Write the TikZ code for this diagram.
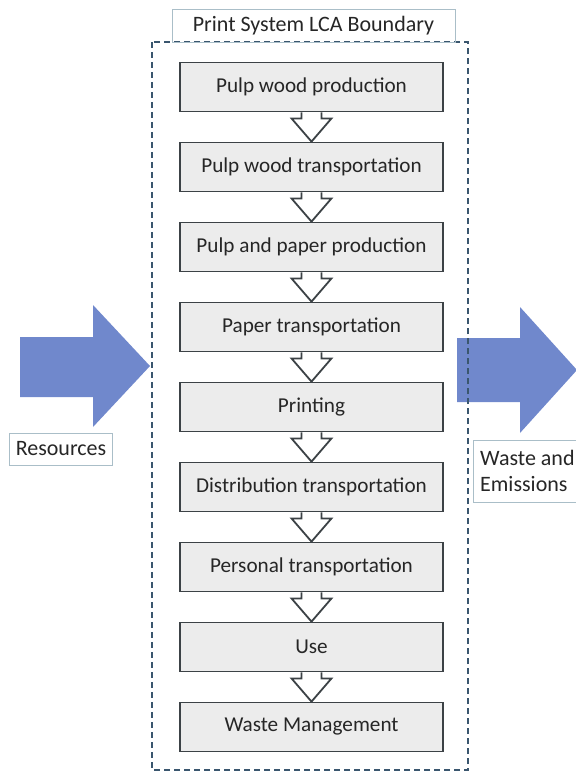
\documentclass[tikz,border=0pt]{standalone}
\usepackage{fontspec}
\setmainfont{Carlito}
\usetikzlibrary{positioning, calc}
\definecolor{boxfill}{RGB}{236,236,236}
\definecolor{boxline}{RGB}{60,66,70}
\definecolor{flowblue}{RGB}{112,136,204}
\definecolor{bndline}{RGB}{58,86,110}
\definecolor{lblline}{RGB}{170,190,200}
\tikzstyle{stage} = [rectangle, minimum width=131.5pt, minimum height=24.5pt, text centered, draw=boxline, line width=0.9pt, fill=boxfill, text=black!85, font=\fontsize{10.6}{12}\selectfont]
\tikzstyle{label} = [rectangle, draw=lblline, line width=0.5pt, text=black!85, font=\fontsize{11}{13}\selectfont]
\tikzstyle{hollow} = [draw=boxline, line width=0.9pt, fill=white, line join=miter]
\tikzstyle{bigarrow} = [fill=flowblue, draw=none]
\newcommand{\downflow}[2]{%
\draw [hollow] ($(#1.south)+(-5pt,0)$) -- ++(0,-3pt) -- ++(-5pt,0) -- (#2.north) -- ($(#1.south)+(10pt,-3pt)$) -- ++(-5pt,0) -- ($(#1.south)+(5pt,0)$);}

\begin{document}
\begin{tikzpicture}[x=0.5pt, y=-0.5pt, node distance=14.6pt]
\useasboundingbox (0,0) rectangle (575,782);
% resource and emission flows
\fill [bigarrow] (20,337) -- (93,337) -- (93,305) -- (150,366) -- (93,427) -- (93,397) -- (20,397) -- cycle;
\fill [bigarrow] (457,338) -- (520,338) -- (520,307) -- (577,370) -- (520,433) -- (520,402) -- (457,402) -- cycle;
% system boundary
\draw [bndline, line width=0.9pt, densely dashed] (152,42) rectangle (468,770);
\node (boundary) [label, minimum width=141.5pt, minimum height=16pt] at (313.5,26) {Print System LCA Boundary};
% life cycle stages
\node (pulpwood) [stage] at (311.5,87) {Pulp wood production};
\node (woodtrans) [stage, below=of pulpwood] {Pulp wood transportation};
\node (paperprod) [stage, below=of woodtrans] {Pulp and paper production};
\node (papertrans) [stage, below=of paperprod] {Paper transportation};
\node (printing) [stage, below=of papertrans] {Printing};
\node (distrib) [stage, below=of printing] {Distribution transportation};
\node (personal) [stage, below=of distrib] {Personal transportation};
\node (use) [stage, below=of personal] {Use};
\node (waste) [stage, below=of use] {Waste Management};
\downflow{pulpwood}{woodtrans}
\downflow{woodtrans}{paperprod}
\downflow{paperprod}{papertrans}
\downflow{papertrans}{printing}
\downflow{printing}{distrib}
\downflow{distrib}{personal}
\downflow{personal}{use}
\downflow{use}{waste}
% side labels
\node (resources) [label, minimum width=49pt, minimum height=16pt] at (61,449) {Resources};
\node (emissions) [label, align=left, minimum height=31pt, anchor=west] at (473,471) {Waste and\\Emissions};
\end{tikzpicture}
\end{document}
